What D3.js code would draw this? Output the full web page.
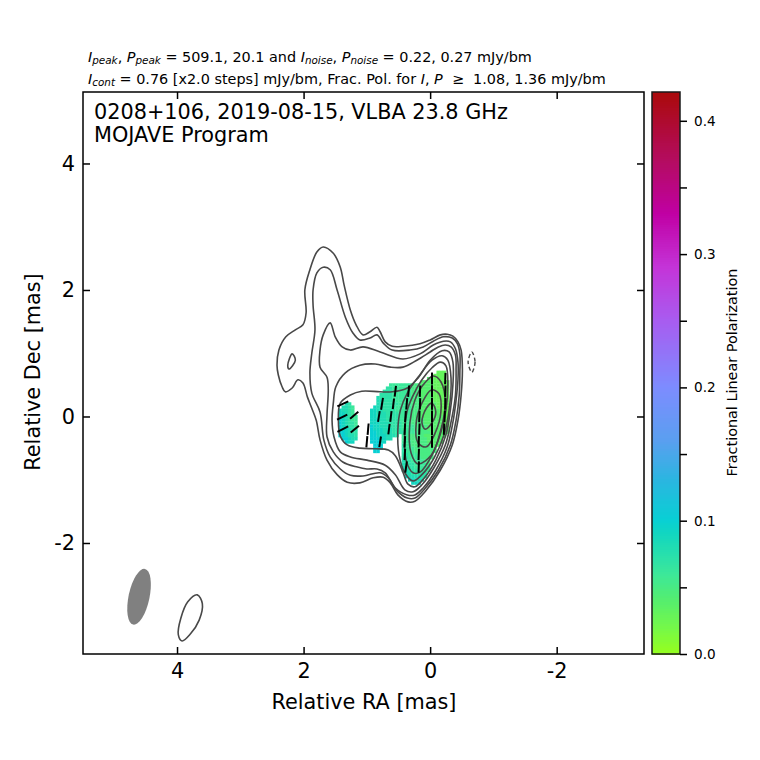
<!DOCTYPE html>
<html><head><meta charset="utf-8">
<script src="https://cdn.jsdelivr.net/npm/d3@7"></script>
<style>
html,body{margin:0;padding:0;background:#fff}
text{font-family:"DejaVu Sans",sans-serif;fill:#000}
</style></head><body><svg id="c" width="760" height="760"></svg>
<script>
const titleLines = ["0208+106, 2019-08-15, VLBA 23.8 GHz", "MOJAVE Program"];
const raDomain = [5.486, -3.38];
const decDomain = [-3.755, 5.13];
const raTicks = [4, 2, 0, -2];
const decTicks = [4, 2, 0, -2];
const cbarDomain = [0, 0.4216];
const cbarMajor = [0, 0.1, 0.2, 0.3, 0.4];
const cbarMinor = [0.05, 0.15, 0.25, 0.35];
const cbarStops = [0, 0.02, 0.04, 0.06, 0.09, 0.1, 0.13, 0.16, 0.2, 0.25, 0.29, 0.33, 0.37, 0.4216];
const cbarColors = ["#96ff1e","#74f84a","#55ee6e","#3ce89a","#12d6c0","#08d0d4","#2ab6e0","#5a9ff0","#7d8cff","#a85cf0","#c434d8","#c000a4","#b40c60","#aa0a0a"];

const contourL1 = [[2.42,.81],[2.39,1.05],[2.28,1.26],[2.13,1.37],[2.01,1.45],[1.96,1.64],[1.98,2.00],[1.90,2.32],[1.79,2.60],[1.69,2.68],[1.53,2.58],[1.42,2.36],[1.36,2.08],[1.26,1.68],[1.17,1.45],[1.06,1.29],[.95,1.34],[.84,1.41],[.79,1.34],[.71,1.18],[.60,1.11],[.43,1.11],[.16,1.15],[0,1.21],[-.16,1.29],[-.27,1.30],[-.36,1.27],[-.44,1.18],[-.49,1.05],[-.51,.74],[-.49,.34],[-.44,-.06],[-.35,-.45],[-.16,-.85],[.08,-1.19],[.24,-1.34],[.35,-1.35],[.51,-1.24],[.63,-1.05],[.74,-.96],[.90,-.97],[1.11,-1.05],[1.31,-1.04],[1.47,-.92],[1.63,-.69],[1.74,-.37],[1.80,-.06],[1.87,.13],[1.94,.31],[2.01,.53],[2.09,.58],[2.18,.45],[2.29,.39],[2.34,.47],[2.40,.66]];
const contourIsland = [[2.18,.99],[2.13,.89],[2.23,.75],[2.25,.81]];
const contourL2 = [[1.74,.07],[1.87,.37],[1.90,.69],[1.87,1.00],[1.82,1.37],[1.85,1.76],[1.85,2.00],[1.79,2.27],[1.69,2.36],[1.58,2.32],[1.47,2.00],[1.34,1.57],[1.22,1.32],[1.11,1.21],[.95,1.24],[.84,1.29],[.74,1.16],[.60,1.05],[.32,1.05],[.11,1.10],[-.05,1.19],[-.21,1.26],[-.35,1.24],[-.43,1.15],[-.47,.99],[-.47,.70],[-.46,.34],[-.41,-.06],[-.32,-.45],[-.13,-.85],[.09,-1.15],[.24,-1.29],[.36,-1.29],[.52,-1.18],[.66,-.97],[.79,-.89],[1.06,-.94],[1.26,-.93],[1.42,-.83],[1.58,-.64],[1.68,-.37]];
const contourL3 = [[1.63,.02],[1.61,.42],[1.63,.62],[1.74,.78],[1.74,1.05],[1.69,1.29],[1.58,1.48],[1.50,1.26],[1.39,1.10],[1.26,1.05],[1.06,1.10],[.79,1.02],[.43,.91],[.16,.99],[-.05,1.13],[-.21,1.19],[-.32,1.18],[-.40,1.07],[-.44,.86],[-.44,.58],[-.41,.26],[-.36,-.09],[-.27,-.48],[-.09,-.85],[.11,-1.13],[.24,-1.24],[.36,-1.24],[.55,-1.13],[.71,-.89],[.84,-.83],[1.00,-.83],[1.15,-.80],[1.38,-.72],[1.53,-.56],[1.63,-.32]];
const contourL4 = [[1.55,-.06],[1.53,.21],[1.49,.47],[1.34,.69],[1.11,.81],[.87,.83],[.63,.78],[.43,.78],[.21,.89],[0,1.02],[-.13,1.10],[-.24,1.13],[-.33,1.10],[-.40,.97],[-.41,.74],[-.40,.34],[-.33,-.09],[-.24,-.45],[-.06,-.81],[.13,-1.08],[.27,-1.19],[.40,-1.16],[.55,-.92],[.71,-.77],[1.00,-.69],[1.26,-.64],[1.42,-.56],[1.52,-.32]];
const contourL5 = [[1.45,-.06],[1.42,.21],[1.26,.34],[1.08,.40],[.79,.39],[.60,.39],[.36,.45],[.19,.61],[0,.89],[-.19,1.04],[-.30,1.02],[-.36,.86],[-.36,.50],[-.32,.10],[-.25,-.29],[-.09,-.69],[.09,-.97],[.24,-1.11],[.35,-1.07],[.43,-.88],[.55,-.62],[.66,-.53],[.87,-.51],[1.11,-.50],[1.31,-.45],[1.42,-.31]];
const contourL6 = [[.51,-.21],[.47,.10],[.35,.39],[.16,.66],[-.03,.89],[-.19,.96],[-.28,.89],[-.33,.61],[-.30,.10],[-.22,-.29],[-.06,-.66],[.13,-.92],[.27,-1.02],[.40,-.89],[.49,-.61]];
const contourL7 = [[.40,-.21],[.36,.10],[.28,.31],[.13,.58],[-.03,.77],[-.16,.86],[-.25,.80],[-.28,.50],[-.25,.10],[-.17,-.25],[-.03,-.61],[.16,-.88],[.27,-.89],[.38,-.69]];
const contourL8 = [[.32,-.10],[.24,.26],[.11,.50],[-.05,.64],[-.17,.55],[-.24,.21],[-.17,-.21],[-.02,-.61],[.19,-.75],[.30,-.58]];
const contourL9 = [[.22,-.10],[.13,.21],[-.02,.42],[-.14,.36],[-.17,.07],[-.08,-.26],[.06,-.48],[.19,-.42]];
const contourL10 = [[.13,-.09],[.06,.13],[-.03,.21],[-.09,.07],[-.03,-.10],[.08,-.20]];
const contourBeam = [[3.68,-2.82],[3.60,-2.96],[3.65,-3.22],[3.79,-3.44],[3.92,-3.55],[3.98,-3.45],[3.94,-3.19],[3.83,-2.93]];
const contourNeg = [[-.66,1.02],[-.71,.86],[-.66,.70],[-.60,.86]];
const solidContours = [contourL1, contourIsland, contourL2, contourL3, contourL4, contourL5, contourL6, contourL7, contourL8, contourL9, contourL10, contourBeam];

// beam: centre RA, Dec, major, minor (mas), position angle (deg)
const beam = [4.60, -2.85, 0.90, 0.33, -12];

// fractional polarization (percent): [dec, first RA (cell's left edge), values running toward lower RA]
const polBlobA = [
 [.20,1.35,[8,7]],
 [.15,1.40,[8,8,7,6]],
 [.10,1.45,[9,8,8,7,6]],
 [.05,1.45,[9,9,8,7,6]],
 [0,1.45,[9,9,8,7,6,6]],
 [-.05,1.45,[10,9,8,7,6,6]],
 [-.10,1.45,[10,9,8,7,7,6]],
 [-.15,1.45,[10,9,8,7,7,6]],
 [-.20,1.45,[10,9,9,8,7,7]],
 [-.25,1.45,[10,10,9,8,7,7]],
 [-.30,1.45,[10,10,9,8,8,7]],
 [-.35,1.40,[10,10,9,8,8]],
 [-.40,1.35,[10,9,9]]
];
const polBlobBC = [
 [.70,-.10,[3,3,3]],
 [.65,-.05,[3,3,3,3]],
 [.60,.05,[4,4,3,3,3,3]],
 [.55,.15,[4,4,4,4,3,3,3,3,3]],
 [.50,.65,[6,6,6,6,6,6,6,5,5,5,4,4,4,4,3,3,3,3,3]],
 [.45,.70,[7,7,6,6,6,6,6,6,5,5,5,4,4,4,4,3,3,3,3,3]],
 [.40,.75,[7,7,7,6,6,6,6,6,6,5,5,5,4,4,4,4,3,3,3,3,3]],
 [.35,.80,[7,7,7,7,6,6,6,6,6,6,5,5,5,4,4,4,4,3,3,3,3,3]],
 [.30,.85,[8,7,7,7,7,6,6,6,6,6,6,5,5,5,4,4,4,4,3,3,3,3,3]],
 [.25,.85,[8,8,7,7,7,7,6,6,6,6,6,5,5,5,4,4,4,4,3,3,3,3,3]],
 [.20,.85,[8,8,7,7,7,7,7,6,6,6,6,5,5,5,4,4,4,4,4,3,3,3,3]],
 [.15,.90,[9,8,8,7,7,7,7,6,6,6,6,6,5,5,5,4,4,4,4,4,3,3,3,3]],
 [.10,.95,[9,9,8,8,7,7,7,7,6,6,6,6,6,5,5,5,4,4,4,4,4,4,3,3,3]],
 [.05,.95,[9,9,8,8,8,7,7,7,7,6,6,6,6,5,5,5,4,4,4,4,4,4,3,3,3]],
 [0,.95,[9,9,8,8,8,7,7,7,7,6,6,6,6,5,5,5,4,4,4,4,4,4,4,3,3]],
 [-.05,.95,[9,9,9,8,8,7,7,7,7,6,6,6,6,5,5,5,5,4,4,4,4,4,4,3,3]],
 [-.10,.95,[9,9,9,8,8,8,7,7,7,7,6,6,6,5,5,5,5,4,4,4,4,4,4,3,3]],
 [-.15,.95,[10,9,9,8,8,8,7,7,7,7,6,6,6,6,5,5,5,5,4,4,4,4,4,4,3]],
 [-.20,.95,[10,9,9,9,8,8,8,7,7,7,6,6,6,6,5,5,5,5,4,4,4,4,4,4,4]],
 [-.25,.95,[10,10,9,9,8,8,8,7,7,7,7,6,6,6,6,5,5,5,5,4,4,4,4,4,4]],
 [-.30,.95,[10,10,9,9,9,8,8,8,7]],
 [-.30,.45,[6,6,5,5,5,5,5,4,4,4,4,4,4,4]],
 [-.35,.95,[10,10,10,9,9,8,8]],
 [-.35,.45,[6,6,5,5,5,5,5,5,4,4,4,4,4]],
 [-.40,.95,[10,10,10,9,9]],
 [-.40,.45,[6,6,6,5,5,5,5,5,4,4,4,4,4]],
 [-.45,.90,[10,10,10]],
 [-.45,.45,[7,6,6,5,5,5,5,5,5,4,4,4]],
 [-.50,.90,[10,10,10]],
 [-.50,.45,[7,6,6,6,5,5,5,5,5,5,4]],
 [-.55,.90,[10,10]],
 [-.55,.45,[7,6,6,6,5,5,5,5,5,5,5]],
 [-.60,.45,[7,7,6,6,6,5,5,5,5,5]],
 [-.65,.45,[7,7,6,6,6,6,5,5,5,5]],
 [-.70,.45,[8,7,7,6,6,6,6,5,5]],
 [-.75,.45,[8,7,7,7,6,6,6,6,5]],
 [-.80,.45,[8,8,7,7,6,6,6,6,6]],
 [-.85,.45,[8,8,7,7,7,6,6,6,6]],
 [-.90,.40,[8,8,7,7,7,7,7]],
 [-.95,.40,[9,8,8,8,8,7,7]],
 [-1.00,.35,[9,9,8,8,8]],
 [-1.05,.30,[9,9,9]]
];

// EVPA vectors: [RA, Dec, length (mas), position angle (deg)]
const vectors = [
 [-.24,.60,.18,-2],[-.24,.40,.18,-2],[-.24,.20,.18,-2],[-.23,0,.18,-2],[-.22,-.20,.18,-2],
 [-.03,.60,.19,0],[-.03,.40,.19,0],[-.03,.20,.19,0],[-.03,0,.19,0],[-.03,-.20,.19,0],[-.03,-.40,.19,0],
 [.16,.40,.18,-2],[.16,.20,.18,-2],[.17,0,.18,-2],[.17,-.20,.18,-2],[.18,-.40,.18,-2],[.18,-.60,.18,-2],[.18,-.80,.18,-2],
 [.34,.40,.18,-5],[.37,.20,.18,-5],[.39,0,.18,-4],[.40,-.20,.18,-3],[.40,-.40,.18,-3],[.40,-.60,.18,-3],[.38,-.80,.18,-8],
 [.55,.40,.17,-7],[.58,.20,.17,-7],[.62,0,.17,-7],[.65,-.20,.17,-7],
 [.76,.20,.19,-9],[.81,0,.17,-9],[.79,-.40,.17,-9],
 [.98,-.20,.18,-5],[1.00,-.40,.18,-5],
 [1.20,.02,.17,-50],[1.19,-.20,.17,-50],
 [1.38,.20,.19,-65],[1.39,-.01,.18,-63],[1.38,-.20,.19,-63]
];

const subtitle1 = [["I","i"],["peak","s"],[", ",""],["P","i"],["peak","s"],[" = 509.1, 20.1 and ",""],["I","i"],["noise","s"],[", ",""],["P","i"],["noise","s"],[" = 0.22, 0.27 mJy/bm",""]];
const subtitle2 = [["I","i"],["cont","s"],[" = 0.76 [x2.0 steps] mJy/bm, Frac. Pol. for ",""],["I","i"],[", ",""],["P","i"],["  \u2265  1.08, 1.36 mJy/bm",""]];

const svg = d3.select("#c");
const x = d3.scaleLinear().domain(raDomain).range([83, 644]);
const y = d3.scaleLinear().domain(decDomain).range([654, 92]);
const color = d3.scaleLinear().domain(cbarStops).range(cbarColors).interpolate(d3.interpolateRgb);
const cb = d3.scaleLinear().domain(cbarDomain).range([654, 92]);

// polarization cells
const cw = Math.abs(x(0.05) - x(0)), ch = Math.abs(y(0.05) - y(0));
const cells = [];
[...polBlobA, ...polBlobBC].forEach(([dec, ra0, vals]) => vals.forEach((v, k) => cells.push({ra: ra0 - k * 0.05, dec, v: v / 100})));
svg.append("g").selectAll("rect").data(cells).join("rect")
  .attr("x", d => x(d.ra)).attr("y", d => y(d.dec) - ch / 2)
  .attr("width", cw + .3).attr("height", ch + .3)
  .attr("fill", d => color(d.v));

// contours
const line = d3.line().x(d => x(d[0])).y(d => y(d[1])).curve(d3.curveCatmullRomClosed.alpha(0.5));
svg.append("g").selectAll("path").data(solidContours).join("path")
  .attr("d", line).attr("fill", "none").attr("stroke", "#484848").attr("stroke-width", 1.6);
svg.append("path").datum(contourNeg).attr("d", line).attr("fill", "none")
  .attr("stroke", "#484848").attr("stroke-width", 1.4).attr("stroke-dasharray", "4 2.5");

// EVPA vectors: position angle measured from north toward increasing RA (screen left)
const pxPerMas = Math.abs(x(1) - x(0));
svg.append("g").selectAll("line").data(vectors).join("line")
  .each(function(d) {
    const a = d[3] * Math.PI / 180, ox = -Math.sin(a) * d[2] * pxPerMas / 2, oy = Math.cos(a) * d[2] * pxPerMas / 2;
    d3.select(this).attr("x1", x(d[0]) + ox).attr("y1", y(d[1]) - oy)
      .attr("x2", x(d[0]) - ox).attr("y2", y(d[1]) + oy);
  })
  .attr("stroke", "#000").attr("stroke-width", 2);

// beam
svg.append("ellipse")
  .attr("rx", Math.abs(x(beam[3] / 2) - x(0))).attr("ry", Math.abs(y(beam[2] / 2) - y(0)))
  .attr("transform", `translate(${x(beam[0])},${y(beam[1])}) rotate(${-beam[4]})`)
  .attr("fill", "#808080");

// axes
function styleAxis(g, font) {
  g.selectAll(".domain").remove();
  g.selectAll(".tick line").attr("stroke", "#000").attr("stroke-width", 1.5);
  g.selectAll("text").style("font-family", '"DejaVu Sans"').style("font-size", font + "px").attr("fill", "#000");
}
const fmt = d => String(d);
svg.append("g").attr("transform", "translate(0,654)")
  .call(d3.axisBottom(x).tickValues(raTicks).tickFormat(fmt).tickSizeInner(-7).tickSizeOuter(0).tickPadding(9)).call(styleAxis, 20.8);
svg.append("g").attr("transform", "translate(0,92)")
  .call(d3.axisTop(x).tickValues(raTicks).tickFormat("").tickSizeInner(-7).tickSizeOuter(0)).call(styleAxis, 20.8);
svg.append("g").attr("transform", "translate(83,0)")
  .call(d3.axisLeft(y).tickValues(decTicks).tickFormat(fmt).tickSizeInner(-7).tickSizeOuter(0).tickPadding(8)).call(styleAxis, 20.8);
svg.append("g").attr("transform", "translate(644,0)")
  .call(d3.axisRight(y).tickValues(decTicks).tickFormat("").tickSizeInner(-7).tickSizeOuter(0)).call(styleAxis, 20.8);
svg.append("rect").attr("x", 83).attr("y", 92).attr("width", 561).attr("height", 562)
  .attr("fill", "none").attr("stroke", "#000").attr("stroke-width", 1.5);

// axis labels
svg.append("text").attr("x", 364).attr("y", 709).attr("text-anchor", "middle").style("font-size", "20.8px").text("Relative RA [mas]");
svg.append("text").attr("transform", "translate(40,372) rotate(-90)").attr("text-anchor", "middle").style("font-size", "20.8px").text("Relative Dec [mas]");

// titles
titleLines.forEach((t, i) => svg.append("text").attr("x", 94).attr("y", 119 + i * 23).style("font-size", "20.8px").text(t));
function rich(runs, yy) {
  const t = svg.append("text").attr("x", 88).attr("y", yy).style("font-size", "14.4px").style("white-space", "pre");
  let shifted = false;
  runs.forEach(([s, k]) => {
    const sp = t.append("tspan").text(s);
    if (k === "i") sp.style("font-style", "italic");
    if (k === "s") { sp.style("font-style", "italic").style("font-size", "10.4px").attr("dy", shifted ? 0 : 2.2); shifted = true; }
    else if (shifted) { sp.attr("dy", -2.2); shifted = false; }
  });
}
rich(subtitle1, 62);
rich(subtitle2, 84);

// colourbar
const cbarSteps = d3.range(0, 256).map(i => cbarDomain[1] * i / 256);
const cbG = svg.append("g").attr("shape-rendering", "crispEdges");
cbG.selectAll("rect").data(cbarSteps).join("rect")
  .attr("x", 652).attr("width", 28)
  .attr("y", d => cb(d + cbarDomain[1] / 256)).attr("height", d => cb(d) - cb(d + cbarDomain[1] / 256) + 1)
  .attr("fill", d => color(d));
svg.append("rect").attr("x", 652).attr("y", 92).attr("width", 28).attr("height", 562)
  .attr("fill", "none").attr("stroke", "#1a1a1a").attr("stroke-width", 1.5);
svg.append("g").attr("transform", "translate(680,0)")
  .call(d3.axisRight(cb).tickValues(cbarMajor).tickFormat(d3.format(".1f")).tickSizeInner(7).tickSizeOuter(0).tickPadding(7)).call(styleAxis, 13.6);
svg.append("g").attr("transform", "translate(680,0)")
  .call(d3.axisRight(cb).tickValues(cbarMinor).tickFormat("").tickSizeInner(7).tickSizeOuter(0)).call(styleAxis, 13.6);
svg.append("text").attr("transform", "translate(737,372.5) rotate(-90)").attr("text-anchor", "middle").style("font-size", "14.4px").text("Fractional Linear Polarization");
</script></body></html>
